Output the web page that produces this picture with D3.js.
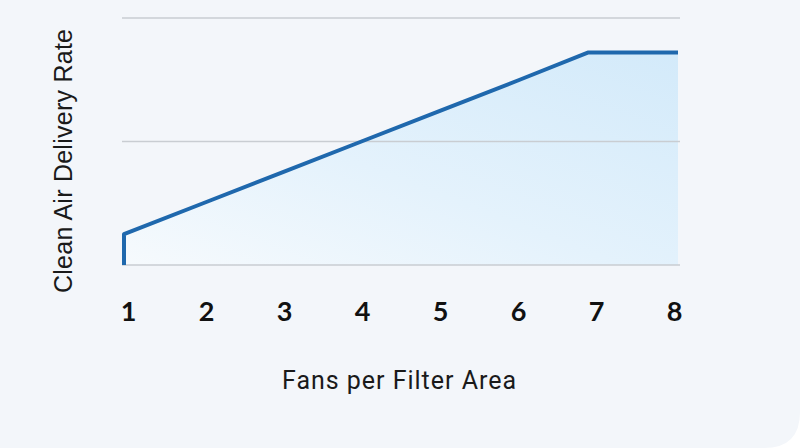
<!DOCTYPE html>
<html><head><meta charset="utf-8">
<script src="https://cdn.jsdelivr.net/npm/d3@7"></script>
<style>html,body{margin:0;padding:0;background:#ffffff;}svg{display:block;}</style>
</head><body>
<svg id="chart" width="800" height="448"></svg>
<script>
const xTicks = [1, 2, 3, 4, 5, 6, 7, 8];
const yGrid = [0, 50, 100];
const xValues = [1, 1, 2, 3, 4, 5, 6, 6.86, 8];
const yValues = [0, 12.5, 25, 37.5, 50, 62.5, 75, 86, 86];
const xTitle = "Fans per Filter Area";
const yTitle = "Clean Air Delivery Rate";

const W = 800, H = 448;
const svg = d3.select("#chart");
const defs = svg.append("defs");

const r = 36;
svg.append("path")
  .attr("d", `M0,0H${W}V${H - r}Q${W},${H} ${W - r},${H}H0Z`)
  .attr("fill", "#f3f6fa");

const x = d3.scaleLinear().domain([1, 8]).range([124, 678]);
const xLabel = d3.scaleLinear().domain([1, 8]).range([128, 674]);
const y = d3.scaleLinear().domain([0, 100]).range([265, 18]);

const data = xValues.map((v, i) => ({x: v, y: yValues[i]}));

const grad = defs.append("linearGradient").attr("id", "fillGrad")
  .attr("x1", "1").attr("y1", "0").attr("x2", "0").attr("y2", "1");
grad.append("stop").attr("offset", "0").attr("stop-color", "#d3eafa");
grad.append("stop").attr("offset", "0.55").attr("stop-color", "#e4f2fc");
grad.append("stop").attr("offset", "1").attr("stop-color", "#f6fafd");

svg.append("path").datum(data)
  .attr("fill", "url(#fillGrad)")
  .attr("d", d3.area().x(d => x(d.x)).y0(y(0)).y1(d => y(d.y)));

svg.append("g").selectAll("line").data(yGrid).join("line")
  .attr("x1", x(1) - 2).attr("x2", x(8) + 2)
  .attr("y1", d => y(d)).attr("y2", d => y(d))
  .attr("stroke", "#c9cdd2").attr("stroke-width", 1.5);

svg.append("path").datum(data)
  .attr("fill", "none")
  .attr("stroke", "#1f68ad")
  .attr("stroke-width", 4)
  .attr("stroke-linejoin", "round")
  .attr("d", d3.line().x(d => x(d.x)).y(d => y(d.y)));

const xAxis = d3.axisBottom(xLabel).tickValues(xTicks).tickFormat(d3.format("d")).tickSize(0).tickPadding(0);
const gx = svg.append("g").attr("transform", "translate(0,302)").call(xAxis);
gx.select(".domain").remove();
gx.selectAll("text")
  .attr("font-family", "Lato, 'DejaVu Sans', sans-serif")
  .attr("font-weight", "bold")
  .attr("font-size", 27)
  .attr("fill", "#111");

svg.append("text")
  .attr("x", 399).attr("y", 389)
  .attr("text-anchor", "middle")
  .attr("font-family", "Roboto, 'Liberation Sans', sans-serif")
  .attr("font-size", 25)
  .attr("textLength", 234)
  .attr("lengthAdjust", "spacing")
  .attr("fill", "#1a1a1a")
  .text(xTitle);

svg.append("text")
  .attr("transform", "translate(72,161) rotate(-90)")
  .attr("text-anchor", "middle")
  .attr("font-family", "'Liberation Sans', Arial, sans-serif")
  .attr("font-size", 25)
  .attr("textLength", 264)
  .attr("lengthAdjust", "spacing")
  .attr("fill", "#1a1a1a")
  .text(yTitle);
</script>
</body></html>
